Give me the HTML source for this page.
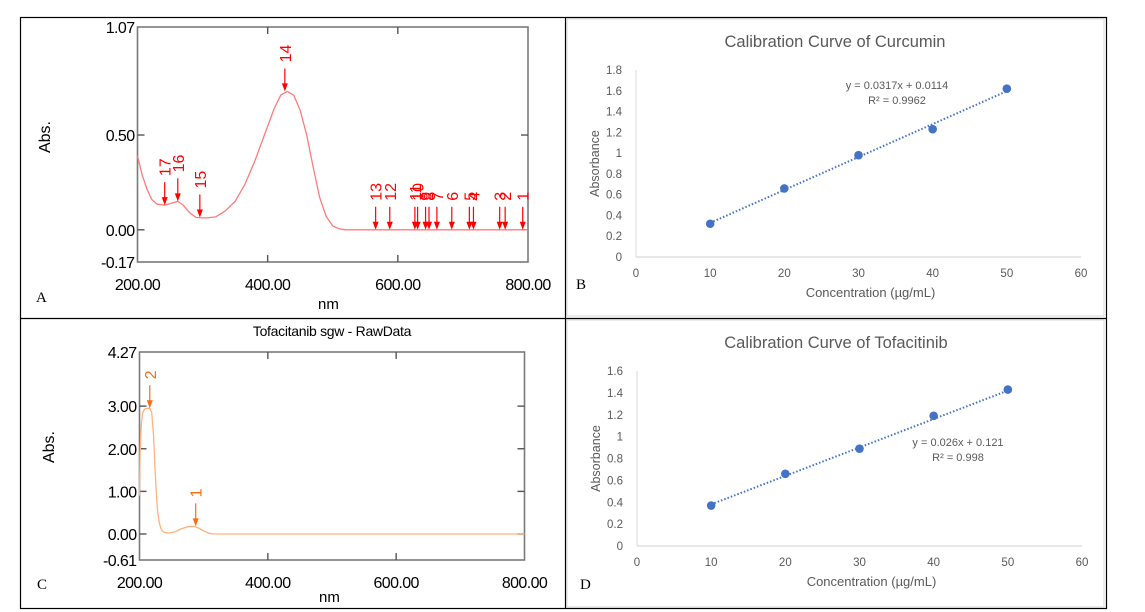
<!DOCTYPE html>
<html><head><meta charset="utf-8"><style>
body{margin:0;background:#fff;}
svg{display:block;font-family:"Liberation Sans",sans-serif;}
</style></head><body>
<svg id="s" width="1145" height="612" viewBox="0 0 1145 612" xmlns="http://www.w3.org/2000/svg">
<rect x="20.5" y="17.5" width="1086" height="591" fill="none" stroke="#000" stroke-width="1.2"/>
<line x1="565.5" y1="17" x2="565.5" y2="609" stroke="#000" stroke-width="1.2"/>
<line x1="20" y1="318.5" x2="1107" y2="318.5" stroke="#000" stroke-width="1.2"/>
<g id="gA"></g>
<g id="gC"></g>
<g id="gB"></g>
<g id="gD"></g>
</svg>
<script>
// Panel A data
const aWl=[200,207,215,222,230,242,252,262,270,280,290,305,320,335,350,365,380,395,410,420,430,440,450,460,470,480,490,500,510,520,560,650,800];
const aAbs=[0.39,0.29,0.21,0.16,0.135,0.13,0.14,0.15,0.13,0.09,0.065,0.062,0.068,0.1,0.15,0.24,0.36,0.5,0.64,0.71,0.73,0.71,0.63,0.5,0.33,0.17,0.07,0.02,0.005,0.0,0.0,0.0,0.0];
const aPeakNm=[791.9,764.9,756.5,716.2,709.9,682.9,660,647.9,642.6,630.4,626.2,587.6,565.9,426.4,295.8,261.9,241.8];
const aPeakAbs=[0,0,0,0,0,0,0,0,0,0,0,0,0,0.73,0.065,0.15,0.13];
const aPeakLbl=["1","2","3","4","5","6","7","8","9","10","11","12","13","14","15","16","17"];
const aYTicks=[1.07,0.5,0,-0.17];
const aYLbl=["1.07","0.50","0.00","-0.17"];
const xTicksNm=[200,400,600,800];
const xTickLbl=["200.00","400.00","600.00","800.00"];
// Panel C data
const cWl=[200,201,203,205,208,212,216,219,222,224,226,228,231,234,238,245,255,265,275,285,292,300,308,315,330,800];
const cAbs=[0.9,1.9,2.6,2.85,2.93,2.95,2.95,2.85,2.3,1.6,1.0,0.55,0.25,0.1,0.04,0.02,0.05,0.12,0.17,0.18,0.14,0.07,0.02,0.0,0.0,0.0];
const cPeakNm=[287.6,216];
const cPeakAbs=[0.18,2.95];
const cPeakLbl=["1","2"];
const cYTicks=[4.27,3,2,1,0,-0.61];
const cYLbl=["4.27","3.00","2.00","1.00","0.00","-0.61"];
// Panel B data
const bConc=[10,20,30,40,50];
const bAbs=[0.32,0.66,0.98,1.23,1.62];
const bFit=[0.0317,0.0114];
const bYTicks=[0,0.2,0.4,0.6,0.8,1,1.2,1.4,1.6,1.8];
// Panel D data
const dConc=[10,20,30,40,50];
const dAbs=[0.37,0.66,0.89,1.19,1.43];
const dFit=[0.026,0.121];
const dYTicks=[0,0.2,0.4,0.6,0.8,1,1.2,1.4,1.6];
const calXTicks=[0,10,20,30,40,50,60];

const NS="http://www.w3.org/2000/svg";
function mk(parent,tag,attrs,text){const e=document.createElementNS(NS,tag);for(const k in attrs)e.setAttribute(k,attrs[k]);if(text!==undefined)e.textContent=text;parent.appendChild(e);return e;}

function spectrum(g,o){
  const X=v=>o.x0+(v-200)/600*(o.x1-o.x0);
  const Y=v=>o.yT+(o.ymax-v)/(o.ymax-o.ymin)*(o.yB-o.yT);
  const fr=mk(g,'rect',{x:o.x0,y:o.yT,width:o.x1-o.x0,height:o.yB-o.yT,fill:'none',stroke:'#7a7a7a','stroke-width':1.6});
  
  
  xTicksNm.forEach((t,i)=>{
    const x=X(t);
    if(i>0&&i<xTicksNm.length-1){
      mk(g,'line',{x1:x,y1:o.yT,x2:x,y2:o.yT+7,stroke:'#555','stroke-width':1.4});
      mk(g,'line',{x1:x,y1:o.yB,x2:x,y2:o.yB-7,stroke:'#555','stroke-width':1.4});
    }
    const tl=mk(g,'text',{x:x,y:o.yB+28,'text-anchor':'middle','font-size':16,fill:'#000','letter-spacing':'-0.6'},xTickLbl[i]);
    
    
  });
  o.yt.forEach((t,i)=>{
    const y=Y(t);
    if(i>0&&i<o.yt.length-1){
      mk(g,'line',{x1:o.x0,y1:y,x2:o.x0+7,y2:y,stroke:'#555','stroke-width':1.4});
      mk(g,'line',{x1:o.x1,y1:y,x2:o.x1-7,y2:y,stroke:'#555','stroke-width':1.4});
    }
    const tl=mk(g,'text',{x:o.x0-3,y:y+6,'text-anchor':'end','font-size':16,fill:'#000','letter-spacing':'-0.6'},o.yl[i]);
    
    
  });
  let d='';o.wl.forEach((w,i)=>{d+=(i?'L':'M')+X(w).toFixed(1)+','+Y(o.abs[i]).toFixed(1);});
  const p=mk(g,'path',{d:d,fill:'none',stroke:o.curve,'stroke-width':1.3,'stroke-linejoin':'round'});
  
  
  o.pn.forEach((w,i)=>{
    const x=X(w),y=Y(o.pa[i]);
    const a=mk(g,'g',{});
    
    
    mk(a,'line',{x1:x,y1:y-23,x2:x,y2:y-6,stroke:o.mark,'stroke-width':1.2});
    mk(a,'path',{d:`M${x-3},${y-8}L${x+3},${y-8}L${x},${y}Z`,fill:o.mark});
    mk(a,'text',{x:0,y:0,transform:`translate(${x+6},${y-29}) rotate(-90)`,'font-size':16,fill:o.mark},o.pl[i]);
  });
}
spectrum(document.getElementById('gA'),{x0:137.5,x1:528,yT:27,yB:262,ymax:1.07,ymin:-0.17,yt:aYTicks,yl:aYLbl,wl:aWl,abs:aAbs,pn:aPeakNm,pa:aPeakAbs,pl:aPeakLbl,curve:'#ff7b7b',mark:'#f00'});
spectrum(document.getElementById('gC'),{x0:139.5,x1:524.5,yT:352,yB:560,ymax:4.27,ymin:-0.61,yt:cYTicks,yl:cYLbl,wl:cWl,abs:cAbs,pn:cPeakNm,pa:cPeakAbs,pl:cPeakLbl,curve:'#ffb27e',mark:'#ff6a10'});

function calib(g,o){
  const X=v=>o.x0+v/60*(o.x1-o.x0);
  const Y=v=>o.y0-v/o.ymax*(o.y0-o.yT);
  const bd=mk(g,'rect',{x:o.bx,y:o.by,width:o.bw,height:o.bh,fill:'none',stroke:'#d9d9d9','stroke-width':1});
  
  
  mk(g,'line',{x1:o.x0,y1:o.yT,x2:o.x0,y2:o.y0,stroke:'#d9d9d9','stroke-width':1});
  mk(g,'line',{x1:o.x0,y1:o.y0,x2:o.x1,y2:o.y0,stroke:'#d9d9d9','stroke-width':1.2});
  o.yt.forEach(t=>{
    const tl=mk(g,'text',{x:o.x0-14,y:Y(t)+4,'text-anchor':'end','font-size':11.5,fill:'#595959'},String(t));
    
    
  });
  calXTicks.forEach(t=>{
    const tl=mk(g,'text',{x:X(t),y:o.y0+20,'text-anchor':'middle','font-size':11.5,fill:'#595959'},String(t));
    
    
  });
  const c0=o.c[0],c1=o.c[o.c.length-1];
  const tr=mk(g,'line',{x1:X(c0),y1:Y(o.fit[0]*c0+o.fit[1]),x2:X(c1),y2:Y(o.fit[0]*c1+o.fit[1]),stroke:'#4472c4','stroke-width':2,'stroke-dasharray':'1.5 2'});
  
  
  o.c.forEach((c,i)=>{
    const pt=mk(g,'circle',{cx:X(c),cy:Y(o.a[i]),r:4.3,fill:'#4472c4'});
    
    
  });
  const t=mk(g,'text',{x:o.tx,y:o.ty,'text-anchor':'middle','font-size':16.5,fill:'#595959'},o.title);
  
  
  const e1=mk(g,'text',{x:o.ex,y:o.ey,'text-anchor':'middle','font-size':11,fill:'#595959'},o.eq);
  
  
  const e2=mk(g,'text',{x:o.ex,y:o.ey+15,'text-anchor':'middle','font-size':11,fill:'#595959'},o.r2);
  
  
  const xl=mk(g,'text',{x:(o.x0+o.x1)/2+12,y:o.y0+40,'text-anchor':'middle','font-size':13,fill:'#595959'},'Concentration (µg/mL)');
  
  
  const yl=mk(g,'text',{x:0,y:0,transform:`translate(${o.x0-37},${(o.y0+o.yT)/2}) rotate(-90)`,'text-anchor':'middle','font-size':12.5,fill:'#595959'},'Absorbance');
  
  
}
calib(document.getElementById('gB'),{x0:636,x1:1081,y0:257,yT:70,ymax:1.8,yt:bYTicks,c:bConc,a:bAbs,fit:bFit,title:'Calibration Curve of Curcumin',tx:835,ty:47,eq:'y = 0.0317x + 0.0114',r2:'R² = 0.9962',ex:897,ey:89,bx:567,by:19,bw:537,bh:297});
calib(document.getElementById('gD'),{x0:637,x1:1082,y0:546,yT:371,ymax:1.6,yt:dYTicks,c:dConc,a:dAbs,fit:dFit,title:'Calibration Curve of Tofacitinib',tx:836,ty:348,eq:'y = 0.026x + 0.121',r2:'R² = 0.998',ex:958,ey:446,bx:567,by:320,bw:537,bh:287});
</script>
<g></g>
<svg width="0" height="0"></svg>
<div style="position:absolute;left:0;top:0;width:1145px;height:612px;pointer-events:none;font-family:'Liberation Sans',sans-serif;">
<div style="position:absolute;left:36px;top:290px;font:15px 'Liberation Serif',serif;">A</div>
<div style="position:absolute;left:576px;top:277px;font:15px 'Liberation Serif',serif;">B</div>
<div style="position:absolute;left:37px;top:577px;font:15px 'Liberation Serif',serif;">C</div>
<div style="position:absolute;left:580px;top:577px;font:15px 'Liberation Serif',serif;">D</div>
<div style="position:absolute;left:318px;top:296px;font-size:15px;">nm</div>
<div style="position:absolute;left:319px;top:589px;font-size:15px;">nm</div>
<div style="position:absolute;left:30px;top:128px;font-size:16px;transform:rotate(-90deg);">Abs.</div>
<div style="position:absolute;left:34px;top:438px;font-size:16px;transform:rotate(-90deg);">Abs.</div>
<div style="position:absolute;left:232px;top:323px;width:200px;text-align:center;font-size:14px;letter-spacing:-0.3px;">Tofacitanib sgw - RawData</div>
</div>
</body></html>
